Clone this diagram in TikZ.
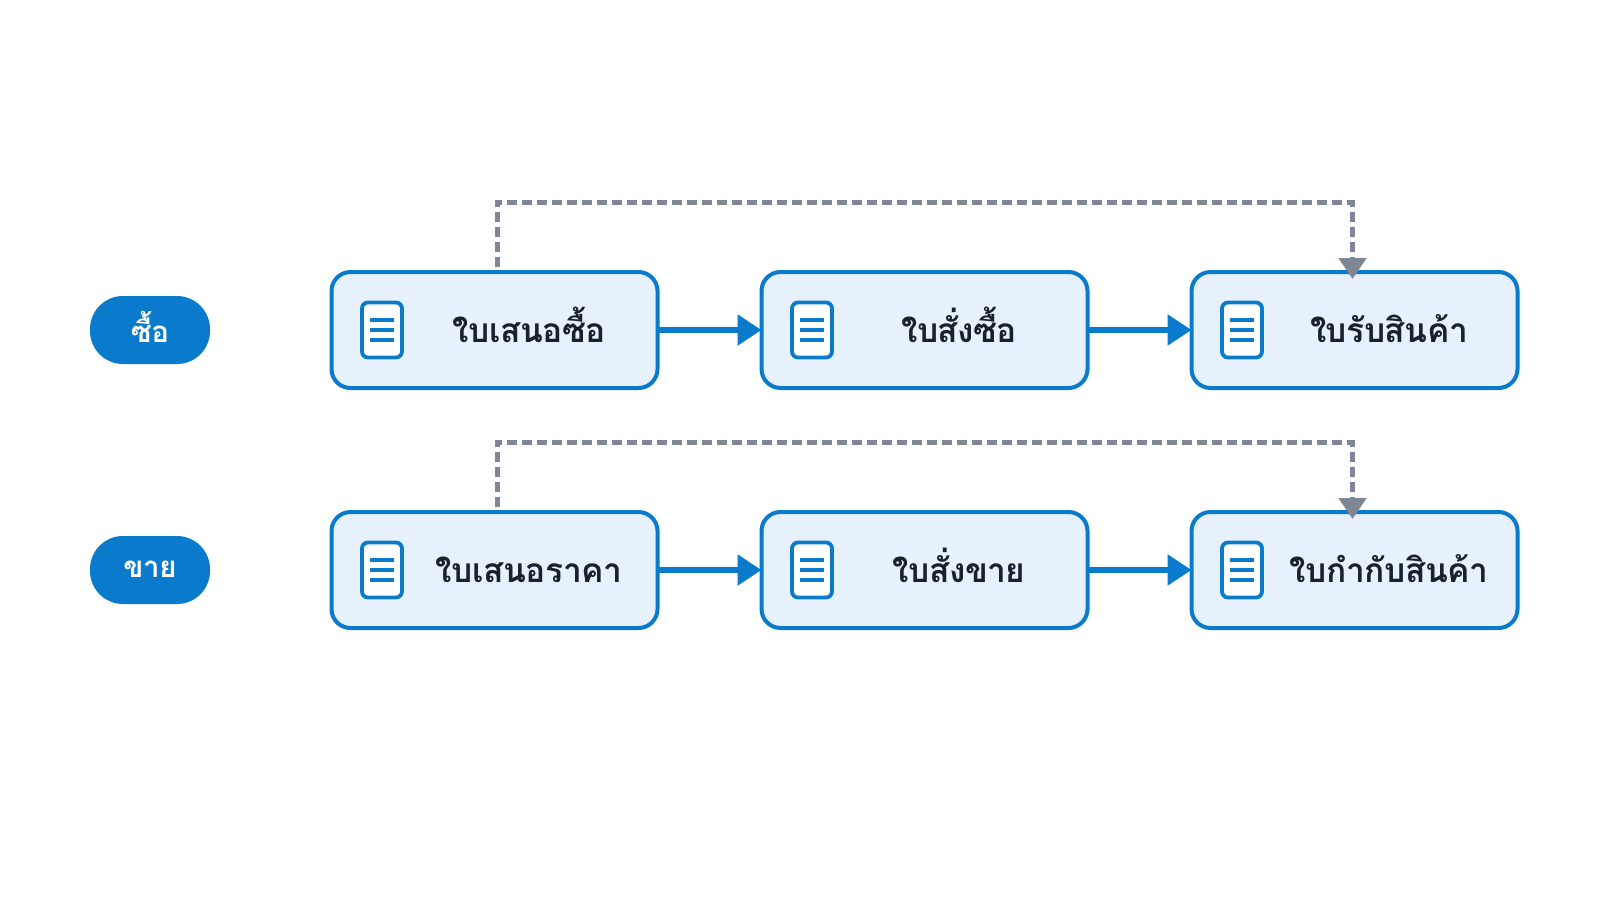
\documentclass[tikz,border=0pt]{standalone}
\usepackage{fontspec}
\newfontfamily\thaifont[Script=Thai,LetterSpace=-1.5]{Loma}
\usetikzlibrary{arrows.meta}
\definecolor{mainblue}{HTML}{0A7ACC}
\definecolor{boxfill}{HTML}{E6F1FB}
\definecolor{dashgray}{HTML}{7F8794}
\definecolor{inkdark}{HTML}{1A2030}
\tikzset{
  docbox/.style={draw=mainblue,line width=4pt,fill=boxfill,rounded corners=19pt,minimum width=326pt,minimum height=116pt,outer sep=0pt,inner sep=0pt},
  iconbox/.style={draw=mainblue,line width=3.8pt,fill=white,rounded corners=6pt,minimum width=40pt,minimum height=55pt,outer sep=0pt,inner sep=0pt},
  iconline/.style={draw=mainblue,line width=3.4pt},
  pill/.style={fill=mainblue,rounded corners=33pt,minimum width=120pt,minimum height=68pt,outer sep=0pt,inner sep=0pt,text=white,font=\thaifont\bfseries\fontsize{29.5}{32}\selectfont},
  doctext/.style={anchor=base,text=inkdark,font=\thaifont\bfseries\fontsize{33.5}{36}\selectfont,inner sep=0pt},
  flow/.style={draw=mainblue,line width=5.5pt,-{Triangle[length=24pt,width=30pt]}},
  ref/.style={draw=dashgray,line width=5pt,dash pattern=on 10pt off 5pt,-{Triangle[length=21pt,width=27pt]}}
}
\newcommand{\docitem}[4]{%
  \node[docbox] (#1) at (#2,#3) {};
  \node[iconbox] (#1i) at ([xshift=-112.5pt]#1.center) {};
  \draw[iconline] ([xshift=-12pt,yshift=10pt]#1i.center) -- ([xshift=12pt,yshift=10pt]#1i.center);
  \draw[iconline] ([xshift=-12pt]#1i.center) -- ([xshift=12pt]#1i.center);
  \draw[iconline] ([xshift=-12pt,yshift=-10pt]#1i.center) -- ([xshift=12pt,yshift=-10pt]#1i.center);
  \node[doctext] (#1t) at ([xshift=34.5pt,yshift=-12.5pt]#1.center) {#4};
}
\begin{document}
\begin{tikzpicture}[x=1pt,y=-1pt]
\useasboundingbox (0,0) rectangle (1600,900);
\fill[white] (0,0) rectangle (1600,900);
\node[pill] (buy) at (150,330) {\raisebox{6pt}{ซื้อ}};
\node[pill] (sell) at (150,570) {\raisebox{1pt}{ขาย}};
\docitem{a}{494.5}{330}{ใบเสนอซื้อ}
\docitem{b}{924.5}{330}{ใบสั่งซื้อ}
\docitem{c}{1354.5}{330}{ใบรับสินค้า}
\docitem{d}{494.5}{570}{ใบเสนอราคา}
\docitem{e}{924.5}{570}{ใบสั่งขาย}
\docitem{f}{1354.5}{570}{ใบกำกับสินค้า}
\draw[flow] (a.east) -- (b.west);
\draw[flow] (b.east) -- (c.west);
\draw[flow] (d.east) -- (e.west);
\draw[flow] (e.east) -- (f.west);
\draw[ref] ([xshift=2.5pt,yshift=5pt]a.north) -- ++(0,-65) -| ([xshift=-2pt,yshift=-7pt]c.north);
\draw[ref] ([xshift=2.5pt,yshift=5pt]d.north) -- ++(0,-65) -| ([xshift=-2pt,yshift=-7pt]f.north);
\end{tikzpicture}
\end{document}
